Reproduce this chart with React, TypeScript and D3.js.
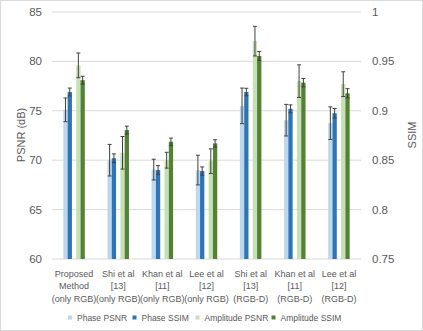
import React from "react";
import { scaleBand, scaleLinear } from "d3";

// categories (multi-line labels)
const categories = [
  ["Proposed", "Method", "(only RGB)"],
  ["Shi et al", "[13]", "(only RGB)"],
  ["Khan et al", "[11]", "(only RGB)"],
  ["Lee et al", "[12]", "(only RGB)"],
  ["Shi et al", "[13]", "(RGB-D)"],
  ["Khan et al", "[11]", "(RGB-D)"],
  ["Lee et al", "[12]", "(RGB-D)"],
];

// PSNR values (left axis), SSIM values (right axis)
const phasePsnr = [75.1, 70.0, 69.05, 69.0, 75.5, 74.05, 73.75];
const phasePsnrErr = [1.2, 1.6, 1.05, 1.5, 1.8, 1.6, 1.65];
const phaseSsim = [0.919, 0.852, 0.84, 0.839, 0.919, 0.902, 0.8975];
const phaseSsimErr = [0.004, 0.0044, 0.0045, 0.0042, 0.0038, 0.004, 0.0048];
const ampPsnr = [79.6, 70.75, 70.0, 69.9, 82.05, 78.0, 77.7];
const ampPsnrErr = [1.25, 1.65, 0.8, 1.25, 1.5, 1.65, 1.25];
const ampSsim = [0.931, 0.8805, 0.8687, 0.867, 0.9555, 0.9285, 0.9177];
const ampSsimErr = [0.004, 0.004, 0.0037, 0.0037, 0.0045, 0.0042, 0.0047];

const psnrTicks = [60, 65, 70, 75, 80, 85];
const ssimTicks = [0.75, 0.8, 0.85, 0.9, 0.95, 1];

const legendLabels = ["Phase PSNR", "Phase SSIM", "Amplitude PSNR", "Amplitude SSIM"];
const colors = ["#BDD7EE", "#2E75B6", "#C5E0B4", "#548235"];

const W = 423;
const H = 331;
const left = 52;
const right = 361;
const top = 12;
const bottom = 259;
const font = "'Liberation Sans', Arial, sans-serif";
const textColor = "#595959";

export default function App() {
  const x = scaleBand<number>()
    .domain(categories.map((d, i) => i))
    .range([left, right])
    .padding(0);
  const yPsnr = scaleLinear().domain([60, 85]).range([bottom, top]);
  const ySsim = scaleLinear().domain([0.75, 1]).range([bottom, top]);
  // slot 2 is the gap between the phase pair and the amplitude pair
  const sub = scaleBand<string>()
    .domain(["pp", "ps", "gap", "ap", "as"])
    .range([-10.75, 10.75]);

  const series = [
    { key: "pp", vals: phasePsnr, errs: phasePsnrErr, y: yPsnr },
    { key: "ps", vals: phaseSsim, errs: phaseSsimErr, y: ySsim },
    { key: "ap", vals: ampPsnr, errs: ampPsnrErr, y: yPsnr },
    { key: "as", vals: ampSsim, errs: ampSsimErr, y: ySsim },
  ];
  const bw = sub.bandwidth();

  const legendX = [70, 134.5, 197.5, 273.5];

  return (
    <svg
      width={W}
      height={H}
      style={{ position: "absolute", left: 0, top: 0, background: "#fff" }}
      fontFamily={font}
    >
      <rect x={0.5} y={0.5} width={W - 1} height={H - 1} fill="#fff" stroke="#d9d9d9" />

      {/* grid */}
      {psnrTicks.map((t) => (
        <line key={t} x1={left} x2={right} y1={yPsnr(t)} y2={yPsnr(t)} stroke="#d9d9d9" strokeWidth={1} />
      ))}

      {/* left tick labels */}
      {psnrTicks.map((t) => (
        <text key={t} x={42} y={yPsnr(t)} dy="0.35em" textAnchor="end" fontSize={11.5} fill={textColor}>
          {t}
        </text>
      ))}
      {/* right tick labels */}
      {ssimTicks.map((t) => (
        <text key={t} x={372} y={ySsim(t)} dy="0.35em" textAnchor="start" fontSize={11.5} fill={textColor}>
          {+t.toFixed(2)}
        </text>
      ))}

      <text transform="translate(21,135) rotate(-90)" textAnchor="middle" dy="0.35em" fontSize={11} fill={textColor}>
        PSNR (dB)
      </text>
      <text transform="translate(412,135) rotate(-90)" textAnchor="middle" dy="0.35em" fontSize={11} fill={textColor}>
        SSIM
      </text>

      {/* bars */}
      {series.map((s, si) =>
        s.vals.map((v, i) => {
          const bx = (x(i) as number) + x.bandwidth() / 2 + (sub(s.key) as number);
          return (
            <rect key={s.key + i} x={bx} y={s.y(v)} width={bw} height={bottom - s.y(v)} fill={colors[si]} />
          );
        })
      )}

      {/* error bars */}
      {series.map((s) =>
        s.vals.map((v, i) => {
          const cx = (x(i) as number) + x.bandwidth() / 2 + (sub(s.key) as number) + bw / 2;
          const y1 = s.y(v + s.errs[i]);
          const y2 = s.y(v - s.errs[i]);
          return (
            <g key={"e" + s.key + i} stroke="#404040" strokeWidth={1}>
              <line x1={cx} x2={cx} y1={y1} y2={y2} />
              <line x1={cx - 2} x2={cx + 2} y1={y1} y2={y1} />
              <line x1={cx - 2} x2={cx + 2} y1={y2} y2={y2} />
            </g>
          );
        })
      )}

      {/* category labels */}
      {categories.map((lines, i) => (
        <text key={i} textAnchor="middle" fontSize={9} fill={textColor}>
          {lines.map((l, j) => (
            <tspan key={j} x={(x(i) as number) + x.bandwidth() / 2} y={276.5 + j * 12.7}>
              {l}
            </tspan>
          ))}
        </text>
      ))}

      {/* legend */}
      {legendLabels.map((l, i) => (
        <g key={l}>
          <rect x={legendX[i] - 2} y={315.5} width={4} height={4} fill={colors[i]} />
          <text x={legendX[i] + 7} y={317.7} dy="0.35em" fontSize={8.5} fill={textColor}>
            {l}
          </text>
        </g>
      ))}
    </svg>
  );
}
